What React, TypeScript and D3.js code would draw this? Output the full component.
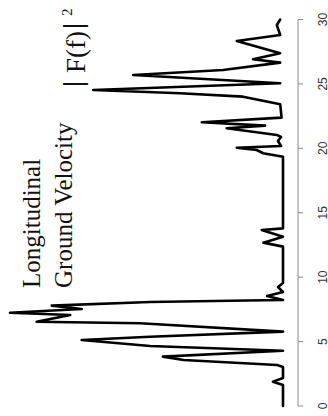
import React from "react";
import * as d3 from "d3";

// Spectrum of longitudinal ground velocity: frequency (Hz) and relative power |F(f)|^2
const freqs = [
  0, 1.63, 1.89, 2.17, 3.03, 3.18, 3.57, 3.83, 4.29, 4.66, 5.12, 5.38, 5.77,
  6.42, 6.54, 7.06, 7.24, 7.53, 7.79, 8.07, 8.17, 8.23, 8.54, 8.85, 9.24, 9.55,
  12.37, 12.68, 13.14, 13.66, 13.79, 19.35, 19.62, 19.87, 20.05, 20.18, 20.57,
  20.88, 21.04, 21.56, 21.76, 22.02, 22.38, 23.42, 24.01, 24.27, 24.53, 25.05,
  25.69, 26.08, 26.65, 26.91, 27.38, 28.33, 28.8, 29.57, 30.0,
];
const power = [
  0, 0, 3.6, 0, 0, 2.1, 35.5, 42.9, 0, 47.5, 71.9, 47.5, 0,
  51, 88, 76, 97.5, 71.9, 82.6, 47.5, 19, 0, 5.7, 0, 1.8, 0,
  0, 7, 0, 7.6, 0, 0, 7.1, 9.4, 16.5, 0.7, 1.8,
  0.7, 2.2, 20.1, 6.4, 29, 0.5, 1, 14.3, 36.8, 67.8, 1,
  53.5, 21.4, 1, 10.7, 1, 16.5, 1, 2.2, 1,
];
const freqTicks = [0, 5, 10, 15, 20, 25, 30];

const titleLines = ["Longitudinal", "Ground Velocity"];

export default function App() {
  const width = 328;
  const height = 416;

  // Frequency runs bottom-to-top along the right edge; power grows leftward.
  const y = d3.scaleLinear().domain([0, 30]).range([406, 19.5]);
  const x = d3.scaleLinear().domain([0, 100]).range([283, 3]);

  const data = freqs.map((f, i) => ({ f, p: power[i] }));
  const line = d3
    .line<{ f: number; p: number }>()
    .x((d) => x(d.p))
    .y((d) => y(d.f));

  const axisX = 298;
  const serif = "'Liberation Serif', 'Times New Roman', serif";

  return (
    <svg
      width={width}
      height={height}
      style={{ position: "absolute", left: 0, top: 0, background: "#fff" }}
    >
      <path
        d={line(data) ?? ""}
        fill="none"
        stroke="#000"
        strokeWidth={2.6}
        strokeLinejoin="round"
        strokeLinecap="round"
      />

      {/* frequency axis */}
      <line
        x1={axisX}
        x2={axisX}
        y1={y(0)}
        y2={y(30)}
        stroke="#8a8a8a"
        strokeWidth={1}
      />
      {freqTicks.map((t) => (
        <g key={t}>
          <line
            x1={axisX}
            x2={axisX + 5}
            y1={y(t)}
            y2={y(t)}
            stroke="#8a8a8a"
            strokeWidth={1}
          />
          <text
            transform={`translate(326.5,${y(t)}) rotate(-90)`}
            textAnchor="middle"
            fontFamily="'Liberation Sans', Arial, sans-serif"
            fontSize={12}
            fill="#333"
          >
            {t}
          </text>
        </g>
      ))}

      {/* title */}
      {titleLines.map((s, i) => (
        <text
          key={s}
          transform={`translate(${40 + i * 32},288) rotate(-90)`}
          fontFamily={serif}
          fontSize={25}
          fill="#111"
        >
          {s}
        </text>
      ))}
      <text
        transform="translate(85,87) rotate(-90)"
        fontFamily={serif}
        fontSize={27}
        fill="#111"
      >
        <tspan fontWeight="bold" dy={-3}>|</tspan>
        <tspan dx={8} dy={3}>F(f)</tspan>
        <tspan dx={2} dy={-3} fontWeight="bold">|</tspan>
        <tspan dx={7} dy={-10} fontSize={15}>2</tspan>
      </text>
    </svg>
  );
}
